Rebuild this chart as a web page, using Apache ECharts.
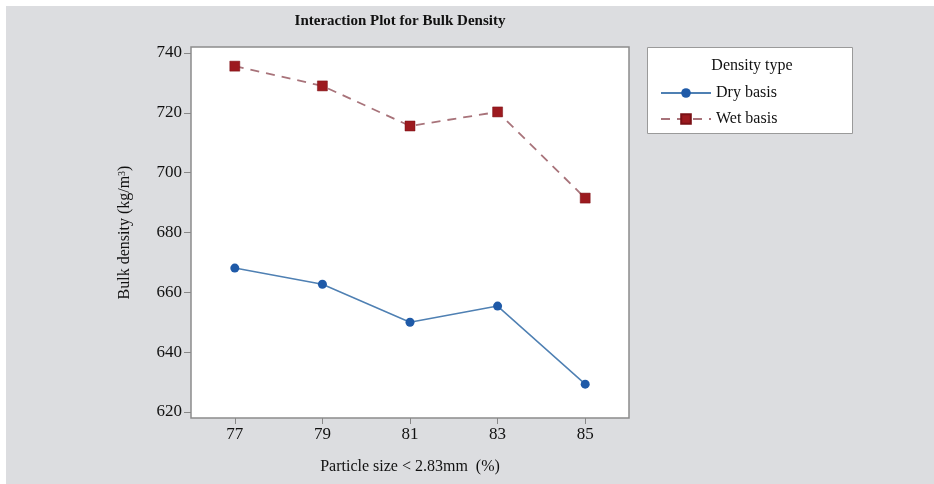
<!DOCTYPE html>
<html><head><meta charset="utf-8">
<script src="https://cdn.jsdelivr.net/npm/echarts@6/dist/echarts.min.js"></script>
<style>html,body{margin:0;padding:0;background:#fff}#c{width:934px;height:484px}</style>
</head><body><div id="c"></div>
<script>
const categories = ['77', '79', '81', '83', '85'];
const dryBasis = [668.1, 662.7, 650.0, 655.4, 629.3];
const wetBasis = [735.6, 729.0, 715.6, 720.3, 691.5];
const yTicks = { min: 620, max: 740, step: 20 };

const FONT = '"Liberation Serif", "Times New Roman", serif';
const chart = echarts.init(document.getElementById('c'));
chart.setOption({
  backgroundColor: '#dcdde0',
  animation: false,
  title: {
    text: 'Interaction Plot for Bulk Density',
    left: 395, top: 9, textAlign: 'center',
    textStyle: { fontFamily: FONT, fontSize: 15, fontWeight: 'bold', color: '#111' }
  },
  graphic: [
    { type: 'rect', z: -10, silent: true, shape: { x: 0, y: 0, width: 934, height: 6 }, style: { fill: '#ffffff' } },
    { type: 'rect', z: -10, silent: true, shape: { x: 0, y: 0, width: 6, height: 484 }, style: { fill: '#ffffff' } },
    { type: 'rect', z: -5, silent: true, shape: { x: 191, y: 47, width: 438, height: 371 }, style: { fill: '#ffffff', stroke: '#8c8c8c', lineWidth: 1.5 } },
    { type: 'rect', z: -5, silent: true, shape: { x: 647.5, y: 47.5, width: 205, height: 86 }, style: { fill: '#ffffff', stroke: '#9a9a9a', lineWidth: 1 } },
    { type: 'text', z: 10, silent: true, x: 752, y: 66, style: { text: 'Density type', fontFamily: FONT, fontSize: 16, fill: '#111', align: 'center', verticalAlign: 'middle' } }
  ],
  legend: {
    orient: 'vertical', left: 655, top: 80,
    itemWidth: 50, itemHeight: 12, itemGap: 10,
    textStyle: { fontFamily: FONT, fontSize: 16, color: '#111' },
    data: ['Dry basis', 'Wet basis']
  },
  grid: { left: 191, right: 305, top: 53, bottom: 72 },
  xAxis: {
    type: 'category', data: categories, boundaryGap: true, offset: 6,
    name: 'Particle size < 2.83mm  (%)', nameLocation: 'middle', nameGap: 41,
    nameTextStyle: { fontFamily: FONT, fontSize: 16, color: '#111' },
    axisLine: { show: false },
    axisTick: { show: true, alignWithLabel: true, length: 6, lineStyle: { color: '#888' } },
    axisLabel: { fontFamily: FONT, fontSize: 17, color: '#111', margin: 8 },
    splitLine: { show: false }
  },
  yAxis: {
    type: 'value', min: yTicks.min, max: yTicks.max, interval: yTicks.step,
    name: '{a|Bulk density (kg/m}{s|3}{a|)}', nameLocation: 'middle', nameGap: 58, nameRotate: 90,
    nameTextStyle: { rich: { a: { fontFamily: FONT, fontSize: 16, color: '#111' }, s: { fontFamily: FONT, fontSize: 10, color: '#111', verticalAlign: 'top', padding: [0, 0, 6, 0] } } },
    axisLine: { show: false },
    axisTick: { show: true, length: 7, lineStyle: { color: '#888' } },
    axisLabel: { fontFamily: FONT, fontSize: 17, color: '#111', margin: 9 },
    splitLine: { show: false }
  },
  series: [
    {
      name: 'Dry basis', type: 'line', data: dryBasis,
      symbol: 'circle', symbolSize: 9,
      lineStyle: { color: '#4f80b3', width: 1.5, type: 'solid' },
      itemStyle: { color: '#1f5aa8', borderWidth: 0 }
    },
    {
      name: 'Wet basis', type: 'line', data: wetBasis,
      symbol: 'rect', symbolSize: 10,
      lineStyle: { color: '#a8737a', width: 1.8, type: [9, 7] },
      itemStyle: { color: '#9c1a1f', borderColor: '#7a1015', borderWidth: 0.5 }
    }
  ]
});
</script></body></html>
